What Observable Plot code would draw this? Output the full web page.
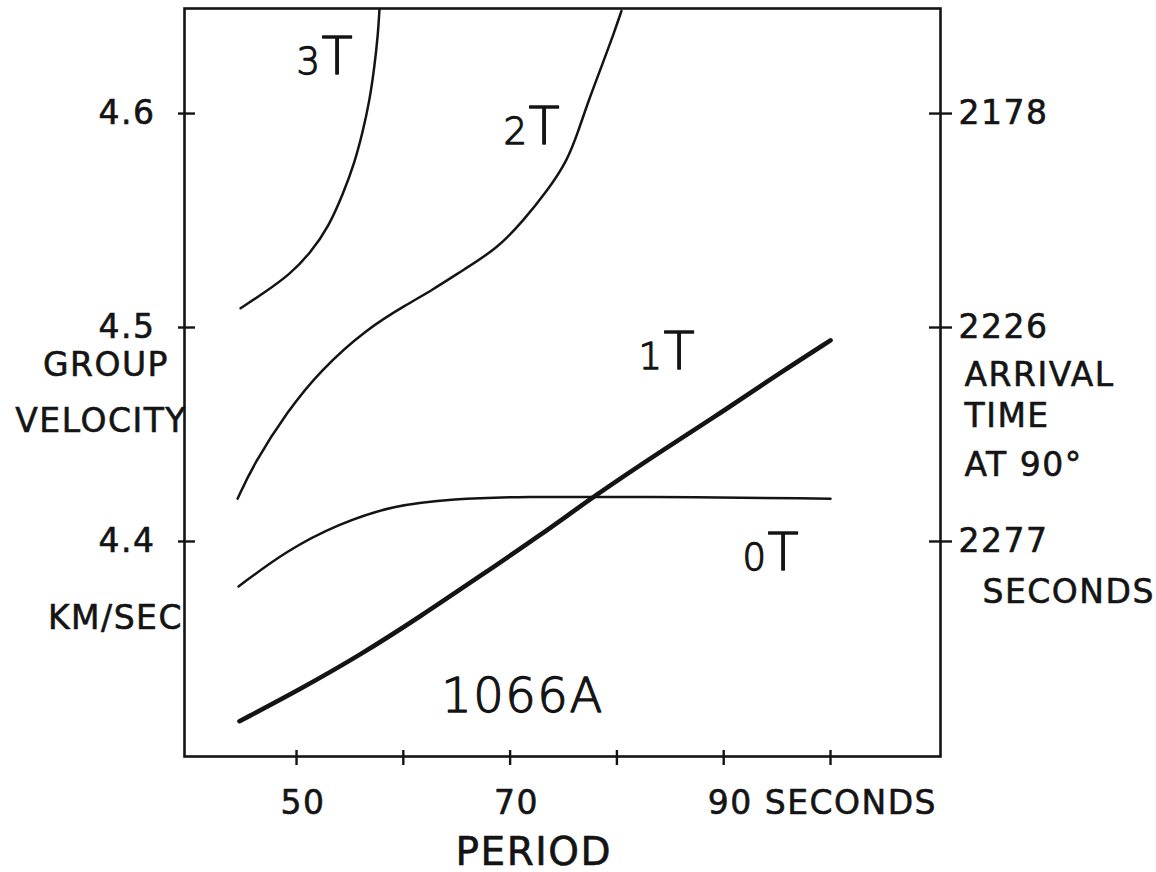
<!DOCTYPE html>
<html><head><meta charset="utf-8">
<script src="https://cdn.jsdelivr.net/npm/d3@7"></script>
<script src="https://cdn.jsdelivr.net/npm/@observablehq/plot@0.6"></script>
<style>
html,body{margin:0;padding:0;background:#fff;}
#chart svg{display:block;}
</style></head><body><div id="chart"></div>
<script>
// ---- data (period in seconds, group velocity in km/sec) ----
const period3T   = [44.76, 46.91, 49.44, 51.31, 53.00, 54.40, 55.43, 56.18, 56.84, 57.30, 57.63, 57.77];
const velocity3T = [4.509, 4.516, 4.525, 4.535, 4.547, 4.563, 4.577, 4.591, 4.606, 4.622, 4.637, 4.649];

const period2T   = [44.48, 45.97, 49.16, 52.25, 56.46, 60.39, 62.55, 65.64, 68.82, 71.25, 73.50, 75.37, 76.40, 77.34, 78.56, 79.68, 80.43];
const velocity2T = [4.420, 4.436, 4.461, 4.480, 4.499, 4.511, 4.517, 4.527, 4.537, 4.550, 4.564, 4.578, 4.592, 4.606, 4.622, 4.637, 4.648];

const period1T   = [44.66, 50.37, 55.99, 61.61, 67.23, 72.85, 77.81, 84.08, 89.70, 95.32, 100.0];
const velocity1T = [4.316, 4.331, 4.347, 4.365, 4.384, 4.403, 4.421, 4.442, 4.460, 4.479, 4.494];

const period0T   = [44.57, 49.16, 53.84, 59.08, 64.70, 70.97, 82.21, 100.0];
const velocity0T = [4.379, 4.396, 4.408, 4.417, 4.420, 4.421, 4.421, 4.420];

const modeNames   = ["3T", "2T", "1T", "0T"];
const modePeriod  = [52.34, 71.72, 84.36, 94.10];   // label anchor (period)
const modeVel     = [4.6187, 4.586, 4.4804, 4.3869]; // label anchor (velocity)

const velocityTicks = [4.6, 4.5, 4.4];
const arrivalTimes  = [2178, 2226, 2277];
const periodTicks   = [50, 60, 70, 80, 90, 100];
const periodLabelAt = [50, 70, 90];
const periodLabels  = ["50", "70", "90 SECONDS"];

const eventName = "1066A";

// ---- layout ----
const W = 1156, H = 872;
const M = {top: 8, right: 216, bottom: 116, left: 184};
const innerW = W - M.left - M.right;
const innerH = H - M.top - M.bottom;
const ink = "#141414";
const FS = 33;
const base = {fill: ink, stroke: ink, strokeWidth: 0.6, fontSize: FS};
const light = {fill: ink, stroke: ink, strokeWidth: 1.3, fontWeight: 300};

const toRows = (p, v) => p.map((x, i) => ({period: x, velocity: v[i]}));
const modeRows = modeNames.map((n, i) => ({digit: n.slice(0, -1), letter: n.slice(-1), period: modePeriod[i], velocity: modeVel[i]}));
const xLab = periodLabelAt.map((p, i) => ({period: p, text: periodLabels[i]}));
const rightLab = velocityTicks.map((v, i) => ({velocity: v, text: String(arrivalTimes[i])}));

const txt = (str, opts) => Plot.text([str], {text: d => d, ...base, ...opts});
const curve = (p, v, w) => Plot.line(toRows(p, v), {x: "period", y: "velocity", curve: "basis", stroke: ink, strokeWidth: w, clip: true});

const chart = Plot.plot({
  width: W, height: H,
  marginTop: M.top, marginRight: M.right, marginBottom: M.bottom, marginLeft: M.left,
  style: {fontFamily: "DejaVu Sans, sans-serif", letterSpacing: "1.5px", background: "#fff", color: ink},
  x: {domain: [39.51, 110.30], axis: null},
  y: {domain: [4.2995, 4.6491], axis: null},
  marks: [
    Plot.frame({stroke: ink, strokeWidth: 2.6}),
    // ticks crossing the frame
    Plot.tickY(velocityTicks, {y: d => d, stroke: ink, strokeWidth: 2.4, insetLeft: -6, insetRight: innerW - 11}),
    Plot.tickY(velocityTicks, {y: d => d, stroke: ink, strokeWidth: 2.4, insetLeft: innerW - 11, insetRight: -12}),
    Plot.tickX(periodTicks, {x: d => d, stroke: ink, strokeWidth: 2.4, insetTop: innerH - 6, insetBottom: -9}),
    // dispersion curves
    curve(period3T, velocity3T, 2.5),
    curve(period2T, velocity2T, 2.5),
    curve(period1T, velocity1T, 4.6),
    curve(period0T, velocity0T, 2.5),
    // mode labels
    Plot.text(modeRows, {x: "period", y: "velocity", text: "digit", textAnchor: "end", lineAnchor: "bottom", fontSize: 37, ...light}),
    Plot.text(modeRows, {x: "period", y: "velocity", text: "letter", textAnchor: "start", lineAnchor: "bottom", fontSize: 51, ...light}),
    // event name
    Plot.text([eventName], {x: 71.16, y: 4.3201, text: d => d, textAnchor: "middle", lineAnchor: "bottom", fontSize: 48, ...light}),
    // left axis labels
    Plot.text(velocityTicks, {y: d => d, text: d => d.toFixed(1), frameAnchor: "left", dx: -29, textAnchor: "end", lineAnchor: "middle", ...base}),
    txt("GROUP",    {y: [4.4822], frameAnchor: "left", dx: -15.5, textAnchor: "end", lineAnchor: "middle"}),
    txt("VELOCITY", {y: [4.4561], frameAnchor: "left", dx: 2.5, textAnchor: "end", lineAnchor: "middle"}),
    txt("KM/SEC",   {y: [4.3640], frameAnchor: "left", dx: -1.5, textAnchor: "end", lineAnchor: "middle"}),
    // right axis labels
    Plot.text(rightLab, {y: "velocity", text: "text", frameAnchor: "right", dx: 18, textAnchor: "start", lineAnchor: "middle", ...base}),
    txt("ARRIVAL", {y: [4.4776], frameAnchor: "right", dx: 24, textAnchor: "start", lineAnchor: "middle"}),
    txt("TIME",    {y: [4.4584], frameAnchor: "right", dx: 24, textAnchor: "start", lineAnchor: "middle"}),
    txt("AT 90°",  {y: [4.4355], frameAnchor: "right", dx: 24, textAnchor: "start", lineAnchor: "middle"}),
    txt("SECONDS", {y: [4.3762], frameAnchor: "right", dx: 42, textAnchor: "start", lineAnchor: "middle"}),
    // bottom axis labels
    Plot.text(xLab, {x: "period", text: "text", frameAnchor: "bottom", dx: -16, dy: 57, textAnchor: "start", lineAnchor: "bottom", ...base}),
    txt("PERIOD", {x: [64.89], frameAnchor: "bottom", dy: 108, textAnchor: "start", lineAnchor: "bottom", fontSize: 39})
  ]
});
document.getElementById("chart").appendChild(chart);
</script>
</body></html>
